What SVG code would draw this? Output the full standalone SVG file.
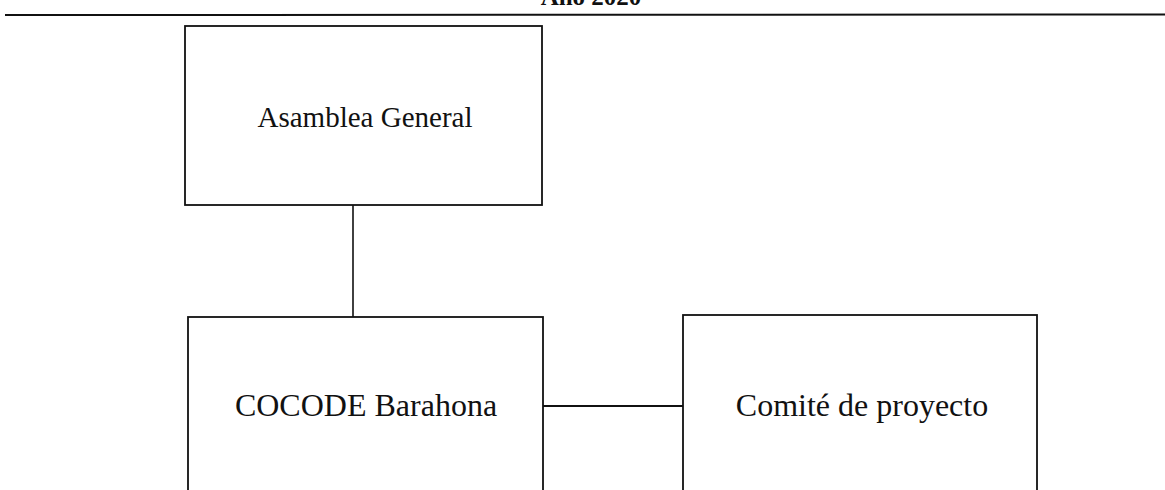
<svg xmlns="http://www.w3.org/2000/svg" width="1165" height="490" viewBox="0 0 1165 490">
  <style>
    .box { fill: #ffffff; stroke: #111111; stroke-width: 1.8; }
    .lbl { font-family: "Liberation Serif", "Times New Roman", serif; fill: #111111; text-anchor: middle; }
    .conn { stroke: #111111; fill: none; }
  </style>
  <rect width="1165" height="490" fill="#ffffff"/>

  <!-- heading and rule -->
  <g id="heading">
    <text x="591" y="5" class="lbl" font-size="25" font-weight="bold">Año 2020</text>
    <line x1="5" y1="15" x2="1165" y2="14.5" stroke="#111111" stroke-width="2"/>
  </g>

  <!-- connectors -->
  <g id="connectors">
    <line class="conn" x1="353" y1="205" x2="353" y2="317" stroke-width="1.6"/>
    <line class="conn" x1="543" y1="406" x2="683" y2="406" stroke-width="2.2"/>
  </g>

  <g id="asamblea">
    <rect class="box" x="185" y="26" width="357" height="179"/>
    <text class="lbl" x="365" y="127" font-size="29">Asamblea General</text>
  </g>

  <g id="cocode">
    <rect class="box" x="188" y="317" width="355" height="190"/>
    <text class="lbl" x="366" y="416" font-size="32">COCODE Barahona</text>
  </g>

  <g id="comite">
    <rect class="box" x="683" y="315" width="354" height="190"/>
    <text class="lbl" x="862" y="416" font-size="32">Comité de proyecto</text>
  </g>
</svg>
